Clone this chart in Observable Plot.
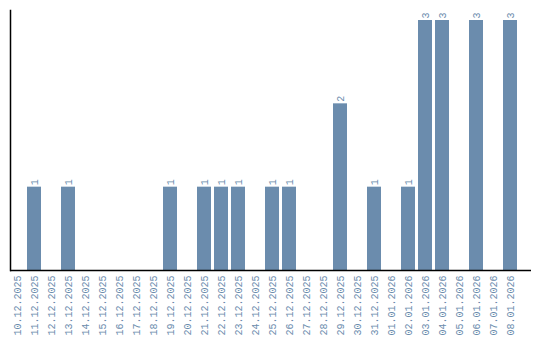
<!DOCTYPE html>
<html>
<head>
<meta charset="utf-8">
<script src="https://cdn.jsdelivr.net/npm/d3@7"></script>
<script src="https://cdn.jsdelivr.net/npm/@observablehq/plot@0.6"></script>
<style>
  html, body { margin: 0; padding: 0; background: #fff; }
</style>
</head>
<body>
<div id="chart"></div>
<script>
const dates = [
  "10.12.2025","11.12.2025","12.12.2025","13.12.2025","14.12.2025","15.12.2025",
  "16.12.2025","17.12.2025","18.12.2025","19.12.2025","20.12.2025","21.12.2025",
  "22.12.2025","23.12.2025","24.12.2025","25.12.2025","26.12.2025","27.12.2025",
  "28.12.2025","29.12.2025","30.12.2025","31.12.2025","01.01.2026","02.01.2026",
  "03.01.2026","04.01.2026","05.01.2026","06.01.2026","07.01.2026","08.01.2026"
];
const counts = [0,1,0,1,0,0,0,0,0,1,0,1,1,1,0,1,1,0,0,2,0,1,0,1,3,3,0,3,0,3];

const data = dates.map((d, i) => ({date: d, count: counts[i]}));
const color = "#6b8cad";

const chart = Plot.plot({
  width: 540,
  height: 340,
  marginTop: 10,
  marginBottom: 70,
  marginLeft: 10,
  marginRight: 23,
  style: {fontFamily: "Liberation Mono", fontSize: "10px", background: "#fff"},
  x: {type: "band", domain: dates, paddingInner: 0.18, paddingOuter: 0, label: null},
  y: {domain: [0, 3.12], axis: null},
  marks: [
    Plot.barY(data, {x: "date", y: "count", fill: color}),
    Plot.text(data.filter(d => d.count > 0), {
      x: "date", y: "count", text: d => String(d.count),
      rotate: -90, textAnchor: "start", dy: -2, fill: color
    }),
    Plot.axisX({tickRotate: -90, tickSize: 0, tickPadding: 5, fill: color, label: null}),
    Plot.ruleY([0], {stroke: "black", strokeWidth: 1.5, insetRight: -14}),
    Plot.frame({anchor: "left", stroke: "black", strokeWidth: 1.5})
  ]
});
document.getElementById("chart").appendChild(chart);
</script>
</body>
</html>
